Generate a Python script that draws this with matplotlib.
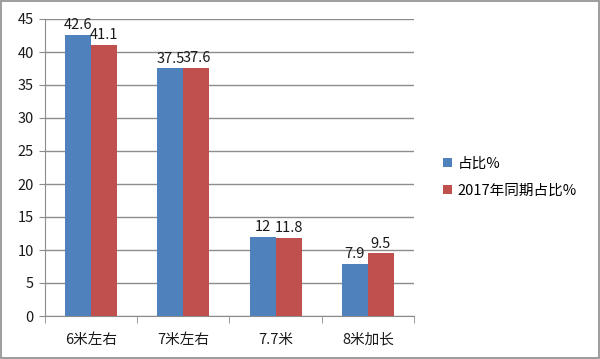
import numpy as np
import matplotlib
matplotlib.use('Agg')
import matplotlib.pyplot as plt
from matplotlib.patches import Rectangle

plt.rcParams['font.family'] = ['Noto Sans CJK SC', 'DejaVu Sans']

categories = ['6米左右', '7米左右', '7.7米', '8米加长']
share = [42.6, 37.5, 12, 7.9]
share_2017 = [41.1, 37.6, 11.8, 9.5]
series_names = ['占比%', '2017年同期占比%']
yticks = [0, 5, 10, 15, 20, 25, 30, 35, 40, 45]

blue = '#4F81BD'
red = '#C0504D'
grid_c = '#8C8C8C'

fig = plt.figure(figsize=(6.0, 3.59), dpi=100)
ax = fig.add_axes([45 / 600, 43 / 359, 369 / 600, 297 / 359])

x = np.arange(len(categories))
w = 0.283
b1 = ax.bar(x - w / 2, share, w, color=blue, label=series_names[0], zorder=3)
b2 = ax.bar(x + w / 2, share_2017, w, color=red, label=series_names[1], zorder=3)

# value labels above each bar
for bars, vals in ((b1, share), (b2, share_2017)):
    for r, v in zip(bars, vals):
        ax.annotate('%g' % v, (r.get_x() + r.get_width() / 2, v),
                    xytext=(0, 2), textcoords='offset points',
                    ha='center', va='bottom', fontsize=10.5, color='#1a1a1a')

ax.set_xlim(-0.5, len(categories) - 0.5)
ax.set_ylim(0, 45)
ax.set_yticks(yticks)
ax.yaxis.grid(True, color=grid_c, linewidth=1, zorder=0)
ax.tick_params(axis='y', length=4, color=grid_c, labelsize=10.5, pad=4,
               labelcolor='#1a1a1a')

ax.set_xticks(x)
ax.set_xticklabels(categories, fontsize=10.5, color='#1a1a1a')
ax.set_xticks(np.arange(len(categories) + 1) - 0.5, minor=True)
ax.tick_params(axis='x', which='major', length=0, pad=12)
ax.tick_params(axis='x', which='minor', length=5, color=grid_c)

for s in ('top', 'right'):
    ax.spines[s].set_visible(False)
for s in ('left', 'bottom'):
    ax.spines[s].set_color(grid_c)

fig.legend(handles=[b1, b2], labels=series_names, loc='upper left',
           bbox_to_anchor=(437 / 600, 1 - 151 / 359), frameon=False,
           fontsize=10.5, handlelength=0.6, handleheight=0.6,
           handletextpad=0.4, labelspacing=0.9, borderaxespad=0)

fig.patches.append(Rectangle((0.002, 0.003), 0.996, 0.994, transform=fig.transFigure,
                             fill=False, edgecolor='#8C8C8C', linewidth=1.2))

fig.savefig('out.png', dpi=100)
